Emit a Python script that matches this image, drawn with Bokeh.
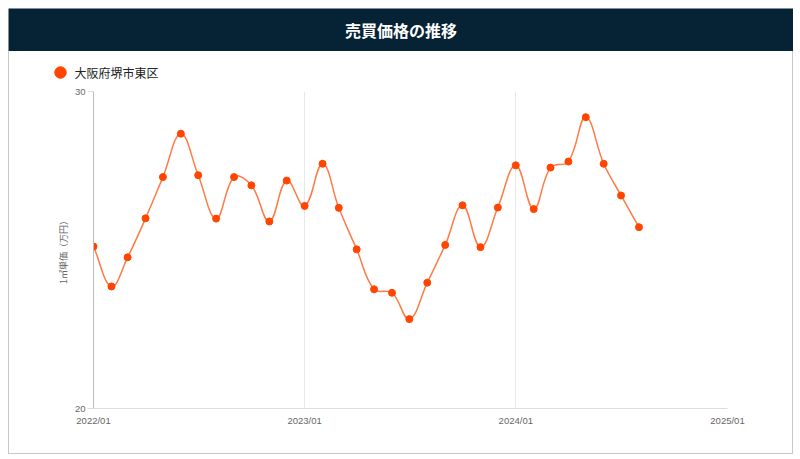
import numpy as np
import pandas as pd
from bokeh.plotting import figure
from bokeh.models import Range1d, FixedTicker, DatetimeTickFormatter, ColumnDataSource
from bokeh.layouts import column
from bokeh.core.properties import value
from bokeh.embed import file_html
from bokeh.resources import INLINE

# ---------------- data ----------------
TITLE = "売買価格の推移"
SERIES = "大阪府堺市東区"
Y_LABEL = "1㎡単価（万円）"
START_MONTH = "2022-01-01"
prices = [25.11, 23.85, 24.77, 26.00, 27.30, 28.67, 27.36, 25.99,
          27.30, 27.04, 25.90, 27.19, 26.39, 27.72, 26.33, 25.02,
          23.76, 23.65, 22.82, 23.97, 25.16, 26.41, 25.09, 26.34,
          27.67, 26.29, 27.60, 27.79, 29.19, 27.72, 26.72, 25.72]
x_tick_dates = ["2022-01-01", "2023-01-01", "2024-01-01", "2025-01-01"]
y_ticks = [20, 30]
y_min, y_max = 20, 30

FONT = "Noto Sans CJK JP"
TICK_FONT = "Liberation Sans"
W = 783
HEADER_H, STRIP_H, MAIN_H = 43, 34, 368
BL, BR, BT, BB = 84, 65, 6, 45
FRAME_W = W - BL - BR
FRAME_H = MAIN_H - BT - BB
TENSION = 0.4
LINE_COLOR = "#FF7A45"
POINT_COLOR = "#FF4500"


def to_ms(d):
    return pd.Timestamp(d).value / 1e6


dates = pd.date_range(START_MONTH, periods=len(prices), freq="MS")
xs = np.array([to_ms(d) for d in dates])
ys = np.array(prices, dtype=float)
x0r, x1r = to_ms(x_tick_dates[0]), to_ms(x_tick_dates[-1])

# smooth curve (Chart.js style spline, computed in pixel space)
sx = (xs - x0r) / (x1r - x0r) * FRAME_W
sy = (ys - y_min) / (y_max - y_min) * FRAME_H
n = len(xs)
cp_prev = np.zeros((n, 2))
cp_next = np.zeros((n, 2))
for i in range(n):
    pt = np.array([sx[i], sy[i]])
    a = np.array([sx[max(i - 1, 0)], sy[max(i - 1, 0)]])
    b = np.array([sx[min(i + 1, n - 1)], sy[min(i + 1, n - 1)]])
    d01 = np.hypot(*(pt - a))
    d12 = np.hypot(*(b - pt))
    tot = d01 + d12
    s01 = d01 / tot if tot else 0
    s12 = d12 / tot if tot else 0
    cp_prev[i] = pt - TENSION * s01 * (b - a)
    cp_next[i] = pt + TENSION * s12 * (b - a)


def bx(v):
    return v / FRAME_W * (x1r - x0r) + x0r


def by(v):
    return v / FRAME_H * (y_max - y_min) + y_min


seg = ColumnDataSource(dict(
    x0=xs[:-1], y0=ys[:-1], x1=xs[1:], y1=ys[1:],
    cx0=bx(cp_next[:-1, 0]), cy0=by(cp_next[:-1, 1]),
    cx1=bx(cp_prev[1:, 0]), cy1=by(cp_prev[1:, 1]),
))


def blank(width, height, fill):
    f = figure(width=width, height=height, output_backend="svg", toolbar_location=None,
               x_range=Range1d(0, width), y_range=Range1d(0, height), min_border=0,
               x_axis_location=None, y_axis_location=None)
    f.frame_align = False
    f.grid.visible = False
    f.outline_line_color = None
    f.background_fill_color = fill
    f.border_fill_color = fill
    return f


# ---------------- header ----------------
header = blank(W + 2, HEADER_H, "#062235")
header.text(x=[(W + 2) / 2], y=[HEADER_H - 21], text=[TITLE], text_color="white",
            text_font=value(FONT), text_font_size="16px", text_font_style="bold",
            text_align="center", text_baseline="middle")

# ---------------- legend strip ----------------
strip = blank(W, STRIP_H, "white")
strip.scatter([51], [STRIP_H - 21], size=11.5, fill_color=POINT_COLOR,
              line_color=POINT_COLOR)
strip.text(x=[65], y=[STRIP_H - 21], text=[SERIES], text_color="#222222",
           text_font=value(FONT), text_font_size="12px",
           text_align="left", text_baseline="middle")

# ---------------- main ----------------
p = figure(width=W, height=MAIN_H, output_backend="svg", toolbar_location=None,
           x_axis_type="datetime",
           x_range=Range1d(x0r, x1r), y_range=Range1d(y_min, y_max),
           min_border_left=BL, min_border_right=BR, min_border_top=BT,
           min_border_bottom=BB)
p.frame_align = False
p.outline_line_color = None
p.background_fill_color = "white"
p.border_fill_color = "white"

p.bezier(x0="x0", y0="y0", x1="x1", y1="y1", cx0="cx0", cy0="cy0",
         cx1="cx1", cy1="cy1", source=seg, line_color=LINE_COLOR, line_width=1.5)
p.scatter(xs, ys, size=7, fill_color=POINT_COLOR, line_color=POINT_COLOR)

# axes
p.xaxis.ticker = FixedTicker(ticks=[to_ms(d) for d in x_tick_dates])
p.xaxis.formatter = DatetimeTickFormatter(years="%Y/%m", months="%Y/%m",
                                          days="%Y/%m", hours="%Y/%m")
p.yaxis.ticker = FixedTicker(ticks=y_ticks)
for ax in (p.xaxis, p.yaxis):
    ax.major_label_text_font = TICK_FONT
    ax.major_label_text_font_size = "9.5px"
    ax.major_label_text_color = "#666666"
    ax.minor_tick_line_color = None
    ax.major_tick_in = 0
p.xaxis.axis_line_color = "#dddddd"
p.xaxis.major_tick_line_color = None
p.xaxis.major_tick_out = 0
p.xaxis.major_label_standoff = 6
p.yaxis.axis_line_color = "#bdbdbd"
p.yaxis.major_tick_line_color = "#dddddd"
p.yaxis.major_tick_out = 6
p.yaxis.major_label_standoff = 2
p.yaxis.axis_label = Y_LABEL
p.yaxis.axis_label_text_font = FONT
p.yaxis.axis_label_text_font_size = "9px"
p.yaxis.axis_label_text_font_style = "normal"
p.yaxis.axis_label_text_color = "#666666"
p.yaxis.axis_label_standoff = 2

p.xgrid.ticker = FixedTicker(ticks=[to_ms(d) for d in x_tick_dates])
p.ygrid.ticker = FixedTicker(ticks=y_ticks)
p.grid.grid_line_color = "#e8e8e8"

body = column(strip, p, spacing=0,
              styles={"border": "1px solid #c8c8c8", "border-top": "none"})
layout = column(header, body, spacing=0, styles={"margin": "8px"})

open("out.html", "w").write(file_html(layout, INLINE))
